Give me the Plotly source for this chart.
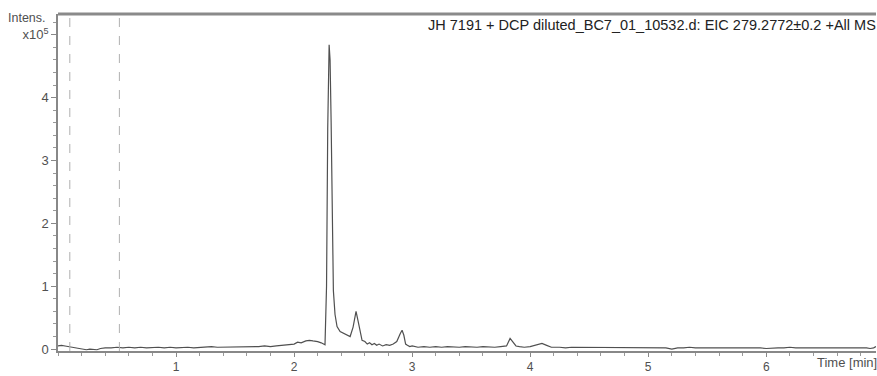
import plotly.graph_objects as go

# Retention time (min) and intensity (x10^5)
time_min = [
    0.00, 0.03, 0.06, 0.09, 0.12, 0.15, 0.18, 0.21, 0.24, 0.27, 0.30, 0.33, 0.36,
    0.40, 0.45, 0.50, 0.55, 0.60, 0.65, 0.70, 0.75, 0.80, 0.85, 0.90, 0.95,
    1.00, 1.05, 1.10, 1.15, 1.20, 1.25, 1.30, 1.35, 1.40, 1.45, 1.50, 1.55,
    1.60, 1.65, 1.70, 1.75, 1.80, 1.85, 1.90, 1.95, 2.00, 2.03, 2.06, 2.10,
    2.13, 2.16, 2.20, 2.23, 2.25, 2.262, 2.275, 2.285, 2.297, 2.305, 2.314,
    2.325, 2.333, 2.347, 2.364, 2.39, 2.43, 2.475, 2.50, 2.525, 2.542, 2.56,
    2.576, 2.60, 2.62, 2.64, 2.66, 2.68, 2.70, 2.72, 2.75, 2.78, 2.81, 2.84,
    2.87, 2.90, 2.915, 2.93, 2.945, 2.96, 2.98, 3.00, 3.05, 3.10, 3.15, 3.20,
    3.25, 3.30, 3.35, 3.40, 3.45, 3.50, 3.55, 3.60, 3.65, 3.70, 3.75, 3.78,
    3.80, 3.83, 3.85, 3.88, 3.91, 3.95, 4.00, 4.05, 4.10, 4.14, 4.18, 4.25,
    4.30, 4.35, 4.40, 4.45, 4.50, 4.55, 4.60, 4.65, 4.70, 4.75, 4.80, 4.85,
    4.90, 4.95, 5.00, 5.05, 5.10, 5.15, 5.20, 5.25, 5.30, 5.35, 5.40, 5.45,
    5.50, 5.55, 5.60, 5.65, 5.70, 5.75, 5.80, 5.85, 5.90, 5.95, 6.00, 6.05,
    6.10, 6.15, 6.20, 6.25, 6.30, 6.35, 6.40, 6.45, 6.50, 6.55, 6.60, 6.65,
    6.70, 6.75, 6.80, 6.85, 6.88, 6.91, 6.93,
]
intensity_e5 = [
    0.05, 0.06, 0.05, 0.04, 0.03, 0.02, 0.01, 0.00, -0.01, 0.00, -0.01, -0.01, 0.01,
    0.02, 0.02, 0.03, 0.02, 0.03, 0.02, 0.03, 0.02, 0.03, 0.03, 0.02, 0.03,
    0.02, 0.03, 0.03, 0.02, 0.03, 0.03, 0.04, 0.03, 0.03, 0.04, 0.03, 0.03,
    0.04, 0.03, 0.04, 0.05, 0.04, 0.05, 0.06, 0.07, 0.08, 0.11, 0.10, 0.13,
    0.14, 0.13, 0.12, 0.10, 0.08, 0.07, 1.00, 3.50, 4.84, 4.60, 3.60,
    1.80, 0.93, 0.55, 0.36, 0.28, 0.24, 0.20, 0.35, 0.60, 0.45, 0.25,
    0.14, 0.12, 0.08, 0.10, 0.07, 0.09, 0.06, 0.08, 0.05, 0.07, 0.06, 0.08,
    0.12, 0.25, 0.30, 0.22, 0.08, 0.06, 0.04, 0.05, 0.03, 0.04, 0.03, 0.04,
    0.03, 0.04, 0.03, 0.03, 0.04, 0.03, 0.03, 0.04, 0.03, 0.03, 0.04, 0.04,
    0.05, 0.17, 0.12, 0.05, 0.04, 0.03, 0.04, 0.07, 0.09, 0.06, 0.03, 0.03,
    0.02, 0.03, 0.03, 0.02, 0.03, 0.02, 0.03, 0.03, 0.02, 0.03, 0.02, 0.03,
    0.02, 0.03, 0.02, 0.03, 0.02, 0.02, 0.00, 0.02, 0.02, 0.03, 0.02, 0.02,
    0.03, 0.02, 0.02, 0.03, 0.02, 0.02, 0.02, 0.03, 0.02, 0.02, 0.01, 0.02,
    0.02, 0.02, 0.03, 0.02, 0.02, 0.02, 0.03, 0.02, 0.02, 0.02, 0.02, 0.02,
    0.02, 0.02, 0.03, 0.02, 0.01, 0.02, 0.04,
]

x_ticks = [1, 2, 3, 4, 5, 6]
x_tick_labels = ["1", "2", "3", "4", "5", "6"]
y_ticks = [0, 1, 2, 3, 4, 5]
y_tick_labels = ["0", "1", "2", "3", "4", "x10<sup>5</sup>"]
marker_times = [0.10, 0.52]

title_text = "JH 7191 + DCP diluted_BC7_01_10532.d: EIC 279.2772±0.2 +All MS"

FONT = "Liberation Sans, Arial, sans-serif"
AX = "#888888"
TXT = "#505050"

fig = go.Figure()
fig.add_trace(go.Scatter(
    x=time_min, y=intensity_e5, mode="lines",
    line=dict(color="#505050", width=1.2), hoverinfo="skip", showlegend=False,
))

for t in marker_times:
    fig.add_shape(type="line", xref="x", yref="paper", x0=t, x1=t, y0=0, y1=1,
                  line=dict(color="#b0b0b0", width=1, dash="dash"))

# thick top border
fig.add_shape(type="line", xref="paper", yref="paper", x0=0, x1=1, y0=1, y1=1,
              line=dict(color="#8a8a8a", width=3))

fig.add_annotation(text=title_text, xref="paper", yref="paper", x=1.0, y=1.0,
                   xanchor="right", yanchor="top", yshift=-1, xshift=2, showarrow=False,
                   font=dict(family=FONT, size=14.5, color="#222222"))
fig.add_annotation(text="Intens.", xref="paper", yref="paper", x=0, y=1.0,
                   xanchor="right", yanchor="bottom", xshift=-10, yshift=-13,
                   showarrow=False, font=dict(family=FONT, size=12.5, color=TXT))
fig.add_annotation(text="Time [min]", xref="paper", yref="paper", x=1.0, y=0,
                   xanchor="right", yanchor="top", xshift=3, yshift=-2, showarrow=False,
                   font=dict(family=FONT, size=13, color=TXT))

fig.update_layout(
    width=877, height=376,
    margin=dict(l=58, r=1, t=14, b=25),
    paper_bgcolor="white", plot_bgcolor="white",
    font=dict(family=FONT, size=13, color=TXT),
    xaxis=dict(
        range=[0, 6.93], tickvals=x_ticks, ticktext=x_tick_labels, automargin=False,
        showgrid=False, zeroline=False, showline=True, linecolor=AX, linewidth=1.5,
        ticks="outside", ticklen=4, tickcolor=AX, tickwidth=1,
        minor=dict(dtick=0.2, tick0=0, ticks="outside", ticklen=3, tickcolor="#999999", showgrid=False),
        tickfont=dict(family=FONT, size=12, color=TXT),
    ),
    yaxis=dict(
        range=[-0.03, 5.33], tickvals=y_ticks, ticktext=y_tick_labels, automargin=False,
        showgrid=False, zeroline=False, showline=True, linecolor=AX, linewidth=1.5,
        ticks="outside", ticklen=5, tickcolor=AX, tickwidth=1,
        minor=dict(dtick=0.2, tick0=0, ticks="outside", ticklen=3, tickcolor="#999999", showgrid=False),
        tickfont=dict(family=FONT, size=13, color=TXT),
    ),
)

fig.write_html("out.html")
